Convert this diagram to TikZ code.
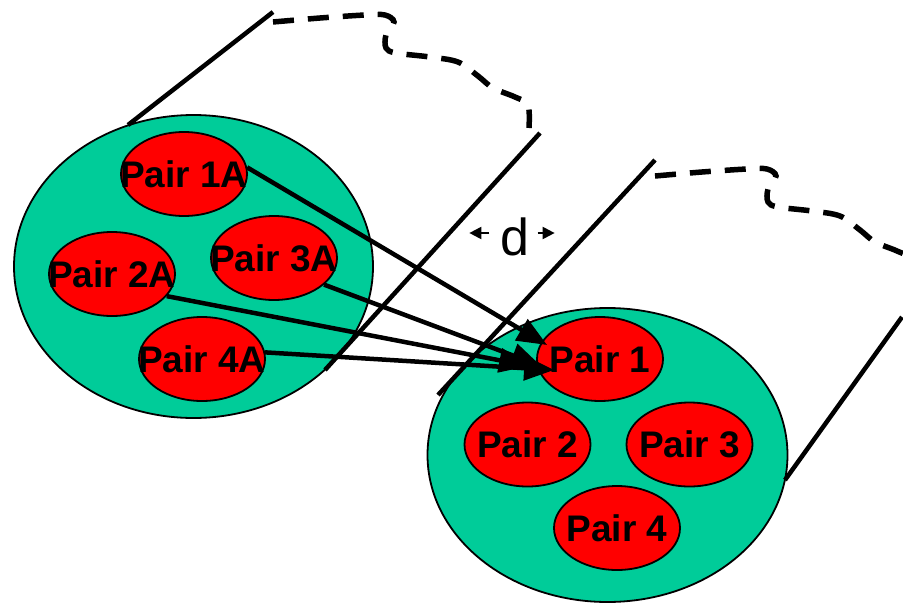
\documentclass[tikz,border=0pt]{standalone}
\usepackage{fontspec}
\setmainfont{Liberation Sans}
\usetikzlibrary{shapes.geometric,arrows.meta,calc}
\definecolor{poolgreen}{RGB}{0,204,153}
\definecolor{pairred}{RGB}{255,0,0}
\begin{document}
\begin{tikzpicture}[x=1pt,y=-1pt,
  pool/.style={ellipse, draw=black, line width=1.8pt, fill=poolgreen, inner sep=0pt},
  pair/.style={ellipse, draw=black, line width=1.8pt, fill=pairred,
    minimum width=126pt, minimum height=84pt, inner sep=0pt},
  pairtext/.style={font=\fontsize{37}{37}\selectfont\bfseries, inner sep=0pt},
  wall/.style={line width=4.5pt},
  rim/.style={line width=5.5pt, dash pattern=on 21pt off 14pt},
  link/.style={line width=4.5pt, -{Triangle[length=30pt,width=24pt]}},
  gap/.style={line width=2pt, -{Triangle[length=12pt,width=12pt]}}]
\useasboundingbox (0,0) rectangle (903,603);
\clip (0,0) rectangle (903,603);

% the two pools
\node[pool, minimum width=359pt, minimum height=303pt] (poolA) at (193.5,266.5) {};
\node[pool, minimum width=360pt, minimum height=294pt] (poolB) at (607.5,455) {};

% tube walls
\draw[wall] (128,125) -- (273,12);
\draw[wall] (540,133) -- (325,370);
\draw[wall] (655,160) -- (438,395);
\draw[wall] (902,317) -- (785,480);

% ragged far ends of the tubes
\def\rimpath{plot[smooth, tension=0.55] coordinates {
  (273,22) (320,18) (365,15) (385,15) (394,22) (386,35) (386,48) (396,53)
  (430,57) (458,62) (478,76) (493,88) (515,97) (528,105) (529,128)}}
\draw[rim] \rimpath;
\begin{scope}[shift={(382,154)}]
  \draw[rim] \rimpath;
\end{scope}

% pairs in the first pool
\node[pair, label={[pairtext]center:Pair 1A}] (p1a) at (184,174) {};
\node[pair, label={[pairtext]center:Pair 2A}] (p2a) at (112,274) {};
\node[pair, label={[pairtext]center:Pair 3A}] (p3a) at (274,258) {};
\node[pair, label={[pairtext]center:Pair 4A}] (p4a) at (202,359) {};

% pairs in the second pool
\node[pair, label={[pairtext]center:Pair 1}] (p1) at (600,359) {};
\node[pair, label={[pairtext]center:Pair 2}] (p2) at (527.5,444.5) {};
\node[pair, label={[pairtext]center:Pair 3}] (p3) at (689.5,444.5) {};
\node[pair, label={[pairtext]center:Pair 4}] (p4) at (617,528) {};

% coupling arrows
\draw[link] (p1a.6) -- ($(p1.west)+(11,-14)$);
\draw[link] (p2a.-22) -- ($(p1.west)+(-7,7)$);
\draw[link] (p3a.-28) -- ($(p1.west)+(5,7)$);
\draw[link] (p4a.6) -- ($(p1.west)+(18,11)$);

% separation d
\node[font=\fontsize{52}{52}\selectfont, inner sep=0pt] (d) at (515,237) {d};
\draw[gap] ($(d.west)+(-11,-4)$) -- ($(d.west)+(-31,-4)$);
\draw[gap] ($(d.east)+(8,-4)$) -- ($(d.east)+(25,-4)$);
\end{tikzpicture}
\end{document}
